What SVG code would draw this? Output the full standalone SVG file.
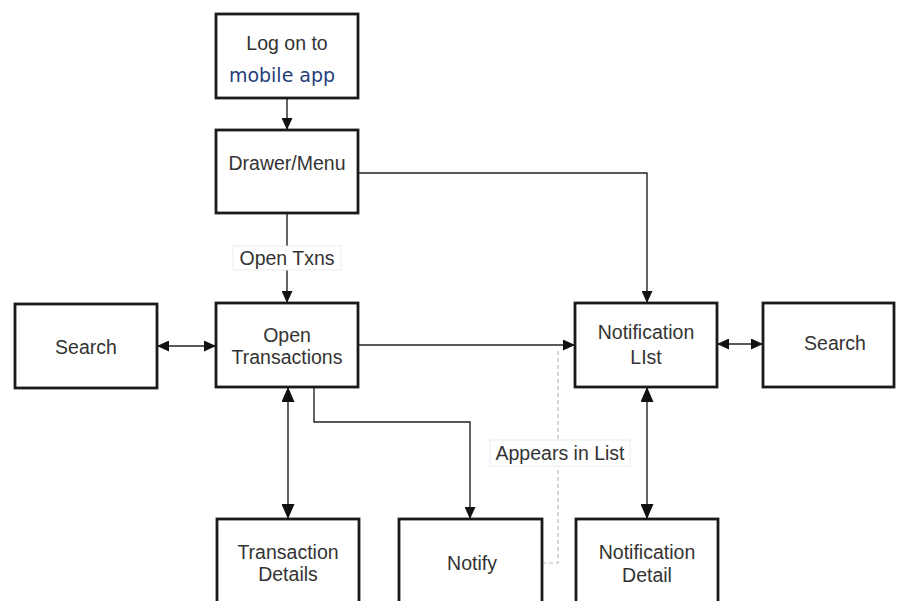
<svg xmlns="http://www.w3.org/2000/svg" width="897" height="601" viewBox="0 0 897 601">
<defs>
<marker id="ah" viewBox="0 0 10 10" refX="10" refY="5" markerWidth="12" markerHeight="11" markerUnits="userSpaceOnUse" orient="auto-start-reverse" preserveAspectRatio="none">
<path d="M0,0 L10,5 L0,10 z" fill="#111"/>
</marker>
<marker id="ahb" viewBox="0 0 10 10" refX="10" refY="5" markerWidth="15" markerHeight="13" markerUnits="userSpaceOnUse" orient="auto-start-reverse" preserveAspectRatio="none">
<path d="M0,0 L10,5 L0,10 z" fill="#111"/>
</marker>
</defs>
<style>
.box{fill:#fff;stroke:#1a1a1a;stroke-width:2.8}
.t{font-family:"Liberation Sans",Arial,sans-serif;font-size:19.5px;fill:#333;text-anchor:middle;dominant-baseline:central}
.c{fill:none;stroke:#222;stroke-width:1.4}
.d{fill:none;stroke:#bbb;stroke-width:1.2;stroke-dasharray:4,3}
.lbl{fill:#fff;stroke:#ececec;stroke-width:1}
</style>
<rect width="897" height="601" fill="#fff"/>
<g id="connectors">
<path class="c" d="M287,98 V130" marker-end="url(#ah)"/>
<path class="c" d="M358,173 H647 V303" marker-end="url(#ah)"/>
<path class="c" d="M287,213 V303" marker-end="url(#ah)"/>
<rect class="lbl" x="233" y="246" width="108" height="24"/>
<text class="t" x="287" y="258">Open Txns</text>
<path class="c" d="M157,346 H216" marker-start="url(#ah)" marker-end="url(#ah)"/>
<path class="c" d="M358,345 H575" marker-end="url(#ah)"/>
<path class="c" d="M717,344 H763" marker-start="url(#ah)" marker-end="url(#ah)"/>
<path class="c" d="M288,387 V519" marker-start="url(#ahb)" marker-end="url(#ahb)"/>
<path class="c" d="M647,387 V519" marker-start="url(#ahb)" marker-end="url(#ahb)"/>
<path class="c" d="M314,387 V422 H470 V519" marker-end="url(#ah)"/>
<path class="d" d="M542,563 H558 V350"/>
<rect class="lbl" x="490" y="440" width="140" height="26"/>
<text class="t" x="560" y="453">Appears in List</text>
</g>
<g id="logon">
<rect class="box" x="216" y="14" width="142" height="84"/>
<text class="t" x="287" y="43">Log on to</text>
<text x="282" y="75" font-family="'DejaVu Sans',Verdana,sans-serif" font-size="19" fill="#1f3d7a" text-anchor="middle" dominant-baseline="central">mobile app</text>
</g>
<g id="drawer">
<rect class="box" x="216" y="130" width="142" height="83"/>
<text class="t" x="287" y="163">Drawer/Menu</text>
</g>
<g id="searchL">
<rect class="box" x="15" y="304" width="142" height="84"/>
<text class="t" x="86" y="347">Search</text>
</g>
<g id="openTx">
<rect class="box" x="216" y="303" width="142" height="84"/>
<text class="t" x="287" y="335">Open</text>
<text class="t" x="287" y="357">Transactions</text>
</g>
<g id="notifList">
<rect class="box" x="575" y="303" width="142" height="84"/>
<text class="t" x="646" y="332">Notification</text>
<text class="t" x="646" y="357">LIst</text>
</g>
<g id="searchR">
<rect class="box" x="763" y="303" width="131" height="84"/>
<text class="t" x="835" y="343">Search</text>
</g>
<g id="txDetails">
<rect class="box" x="217" y="519" width="142" height="90"/>
<text class="t" x="288" y="552">Transaction</text>
<text class="t" x="288" y="574">Details</text>
</g>
<g id="notify">
<rect class="box" x="399" y="519" width="143" height="90"/>
<text class="t" x="472" y="563">Notify</text>
</g>
<g id="notifDetail">
<rect class="box" x="576" y="519" width="142" height="90"/>
<text class="t" x="647" y="552">Notification</text>
<text class="t" x="647" y="575">Detail</text>
</g>
</svg>
